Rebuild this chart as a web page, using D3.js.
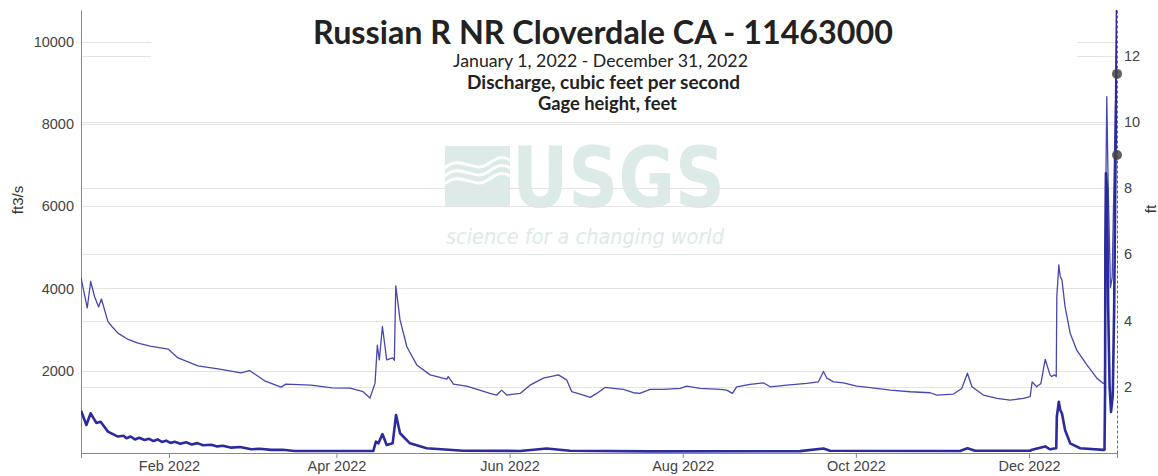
<!DOCTYPE html>
<html>
<head>
<meta charset="utf-8">
<script src="https://cdn.jsdelivr.net/npm/d3@7"></script>
<style>
  html, body { margin: 0; padding: 0; background: #fff; }
  svg { display: block; }
</style>
</head>
<body>
<svg id="chart"></svg>
<script>
// readings, x = day of year 2022 (0 = Jan 1 00:00)
const gageDays = [0, 2.2, 3.4, 4.8, 6.2, 7.2, 9.5, 10.9, 13, 16.6, 20.1, 24.3, 30.7, 34.2, 41.2, 48.3, 56.4, 59.4, 64.7, 70.5, 72.2, 81, 88.5,
  94.8, 99.4, 101.8, 103.6, 104.4, 105.1, 106.2, 107.7, 109.8, 110.4, 110.9, 112.4, 114.8, 118.3, 123, 128.9, 129.4, 131.2,
  135.9, 144.1, 146.5, 148.2, 150, 154.7, 158.2, 162.9, 168.2, 171.1, 172.9, 177, 179.4, 181.7, 184.6, 187.6, 191.1, 194.6,
  196.9, 200.5, 205.2, 211.1, 213.4, 218.1, 225.2, 227.5, 229.5, 231, 235.7, 240.4, 242.8, 248.7, 255.7, 259.8, 261.6,
  262.8, 265.1, 268.6, 273.3, 280.4, 285.1, 292.1, 299.2, 301.5, 307.4, 310.3, 312.3, 313.9, 317.9, 322.7, 327.3, 332,
  334.4, 335.1, 336.7, 338.2, 339.7, 341.4, 342, 343, 343.6, 343.8, 344.5, 345, 345.6, 346.7, 348.5, 350.8, 354.4, 357.9,
  360.2, 360.6, 361, 361.4, 361.9, 362.7, 363.3, 364, 364.7, 365];
const gageFeet = [5.29, 4.38, 5.18, 4.72, 4.41, 4.65, 3.97, 3.82, 3.62, 3.43, 3.32, 3.23, 3.14, 2.87, 2.63, 2.54, 2.42, 2.49, 2.18, 1.99, 2.08, 2.05, 1.97,
  1.96, 1.85, 1.66, 2.11, 3.26, 2.81, 3.82, 2.81, 2.87, 2.8, 5.05, 4.02, 3.21, 2.66, 2.36, 2.23, 2.31, 2.08,
  2.02, 1.8, 1.75, 1.9, 1.75, 1.8, 2.05, 2.26, 2.36, 2.21, 1.85, 1.75, 1.68, 1.8, 1.98, 1.95, 1.92, 1.82,
  1.8, 1.92, 1.92, 1.95, 2.02, 1.95, 1.92, 1.9, 1.8, 2, 2.07, 2.12, 2, 2.05, 2.1, 2.15, 2.46,
  2.26, 2.15, 2.12, 2.02, 1.95, 1.9, 1.85, 1.82, 1.75, 1.78, 1.95, 2.41, 2, 1.75, 1.65, 1.6, 1.65,
  1.7, 2.15, 2, 2.1, 2.83, 2.36, 2.31, 2.36, 2.31, 4.72, 5.68, 5.33, 5.23, 4.42, 3.62, 3.11, 2.66, 2.26,
  2.1, 2.1, 7.5, 10.76, 8, 5, 5.3, 8.5, 11.45, 13.3];

const flowDays = [0, 1.9, 3.4, 5.4, 6.9, 9.5, 13, 15, 16, 17.5, 19, 20.5, 22.4, 24, 25.5, 27, 28.5, 30, 31.5, 33, 35, 37, 39,
  41, 43, 45.9, 48, 50, 53, 56, 60, 63, 67, 71, 75.3, 103, 103.9, 104.8, 106.2, 107.7, 109.8, 111, 112.4, 115.9, 121.8,
  134.7, 154.7, 164.1, 172.3, 200.5, 253.3, 261.6, 263.9, 309.7, 312.3, 315, 334.4, 335.1, 339.7, 341.4, 343.6, 343.8,
  344.5, 345, 345.6, 346.7, 348.5, 352, 360.2, 360.6, 360.8, 360.9, 361.1, 361.5, 361.9, 362.4, 362.9, 363.5, 364,
  364.5, 365];
const flowCfs = [1030, 680, 965, 730, 760, 520, 400, 420, 360, 400, 330, 370, 316, 345, 290, 330, 270, 300, 245, 275, 225, 260, 205,
  240, 190, 200, 160, 175, 130, 145, 90, 105, 75, 80, 50, 50, 275, 235, 460, 195, 235, 925, 480, 235, 115,
  55, 50, 110, 55, 40, 45, 110, 55, 50, 115, 55, 55, 80, 160, 90, 115, 880,
  1245, 1045, 965, 560, 235, 115, 75, 80, 1500, 5000, 6800, 6400, 3500, 1600, 1000, 1400, 3500,
  7240, 10766];

const flowTicks = [2000, 4000, 6000, 8000, 10000];
const gageTicks = [2, 4, 6, 8, 10, 12];
const monthTicks = ["2022-02-01", "2022-04-01", "2022-06-01", "2022-08-01", "2022-10-01", "2022-12-01"];
const hoverDots = [11.45, 9.0]; // feet, on the right edge
const titleLines = [
  "Russian R NR Cloverdale CA - 11463000",
  "January 1, 2022 - December 31, 2022",
  "Discharge, cubic feet per second",
  "Gage height, feet"
];

const width = 1158, height = 476;
const margin = { top: 10, right: 41, bottom: 23, left: 81 };

const svg = d3.select("#chart").attr("width", width).attr("height", height);

const start = new Date(2022, 0, 1);
const toDate = d => d3.timeMinute.offset(start, Math.round(d * 1440));

const x = d3.scaleTime()
  .domain([start, new Date(2023, 0, 1)])
  .range([margin.left, width - margin.right]);

const yFlow = d3.scaleLinear()
  .domain([0, 10766])
  .range([height - margin.bottom, margin.top]);

const yGage = d3.scaleLinear()
  .domain([0, 13.38])
  .range([height - margin.bottom, margin.top]);

svg.append("defs").append("clipPath").attr("id", "plot-clip")
  .append("rect")
  .attr("x", margin.left).attr("y", margin.top)
  .attr("width", width - margin.left - margin.right)
  .attr("height", height - margin.top - margin.bottom);

// watermark
const wm = svg.append("g").attr("fill", "#dcebe7");
wm.append("path")
  .attr("d", "M445,146 L510,146 L510,207 L445,207 Z");
wm.append("g").attr("fill", "none").attr("stroke", "#fff").attr("stroke-width", 3)
  .selectAll("path")
  .data([0, 1, 2])
  .enter().append("path")
  .attr("d", (d, i) => {
    const y0 = 168 + i * 8;
    return `M445,${y0} C460,${y0 - 14} 474,${y0 + 6} 488,${y0 - 4} S505,${y0 - 10} 510,${y0 - 8}`;
  });
wm.append("text")
  .attr("x", 512).attr("y", 207)
  .attr("font-family", "'Liberation Sans Narrow', 'DejaVu Sans Condensed', sans-serif")
  .attr("font-weight", "bold")
  .attr("font-size", 84)
  .attr("textLength", 213).attr("lengthAdjust", "spacingAndGlyphs")
  .text("USGS");
wm.append("text")
  .attr("x", 446).attr("y", 244)
  .attr("font-family", "'Liberation Sans Narrow', 'DejaVu Sans Condensed', sans-serif")
  .attr("font-style", "italic")
  .attr("font-size", 22)
  .attr("textLength", 278).attr("lengthAdjust", "spacingAndGlyphs")
  .text("science for a changing world");

// gridlines for both axes
const grid = svg.append("g").attr("stroke", "#e4e4e4").attr("stroke-width", 1);
grid.selectAll(".gf").data(flowTicks).enter().append("line")
  .attr("x1", margin.left).attr("x2", width - margin.right)
  .attr("y1", d => Math.round(yFlow(d)) + 0.5).attr("y2", d => Math.round(yFlow(d)) + 0.5);
grid.selectAll(".gg").data(gageTicks).enter().append("line")
  .attr("x1", margin.left).attr("x2", width - margin.right)
  .attr("y1", d => Math.round(yGage(d)) + 0.5).attr("y2", d => Math.round(yGage(d)) + 0.5);

// title box
svg.append("rect")
  .attr("x", 151).attr("y", 0).attr("width", 926).attr("height", 117)
  .attr("fill", "#fff");

const titleSpecs = [
  { y: 44, w: 580, cx: 603, weight: "bold" },
  { y: 67, w: 295, cx: 600.5, weight: "normal" },
  { y: 89, w: 273, cx: 603.5, weight: "bold" },
  { y: 110, w: 139, cx: 607.5, weight: "bold" }
];
const titles = svg.append("g")
  .attr("font-family", "Lato, 'Open Sans', sans-serif")
  .attr("fill", "#222")
  .attr("text-anchor", "middle");
titleLines.forEach((t, i) => {
  const s = titleSpecs[i];
  const el = titles.append("text")
    .attr("x", s.cx).attr("y", s.y)
    .attr("font-weight", s.weight)
    .attr("font-size", 20)
    .text(t);
  // fit the font size to the width seen in the reference
  const len = el.node().getComputedTextLength();
  el.attr("font-size", (20 * s.w / len).toFixed(2));
});

// axes
const axisFont = "'Liberation Sans', Arial, sans-serif";

const xAxis = svg.append("g")
  .attr("transform", `translate(0,${height - margin.bottom})`)
  .call(d3.axisBottom(x)
    .tickValues(monthTicks.map(d => d3.timeParse("%Y-%m-%d")(d)))
    .tickFormat(d3.timeFormat("%b %Y"))
    .tickSize(5)
    .tickPadding(3));
xAxis.select(".domain").attr("stroke", "#888");
xAxis.selectAll(".tick line").attr("stroke", "#888");
xAxis.selectAll("text").attr("font-family", axisFont).attr("font-size", 14.5).attr("fill", "#444");

const yLeft = svg.append("g")
  .attr("transform", `translate(${margin.left},0)`)
  .call(d3.axisLeft(yFlow).tickValues(flowTicks).tickFormat(d3.format("d")).tickSize(0).tickPadding(7));
yLeft.select(".domain").attr("stroke", "#888");
yLeft.selectAll("text").attr("font-family", axisFont).attr("font-size", 14.5).attr("fill", "#444");

const yRight = svg.append("g")
  .attr("transform", `translate(${width - margin.right},0)`)
  .call(d3.axisRight(yGage).tickValues(gageTicks).tickSize(0).tickPadding(7));
yRight.select(".domain").attr("stroke", "#666").attr("stroke-dasharray", "3,2");
yRight.selectAll("text").attr("font-family", axisFont).attr("font-size", 14.5).attr("fill", "#444");

svg.append("text")
  .attr("transform", "translate(23,200) rotate(-90)")
  .attr("text-anchor", "middle")
  .attr("font-family", axisFont).attr("font-size", 15).attr("fill", "#333")
  .text("ft3/s");

svg.append("text")
  .attr("transform", "translate(1156,209) rotate(-90)")
  .attr("text-anchor", "middle")
  .attr("font-family", axisFont).attr("font-size", 15).attr("fill", "#333")
  .text("ft");

// series lines
const plot = svg.append("g").attr("clip-path", "url(#plot-clip)");

const gageLine = d3.line()
  .x((d, i) => x(toDate(gageDays[i])))
  .y(d => yGage(d));

const flowLine = d3.line()
  .x((d, i) => x(toDate(flowDays[i])))
  .y(d => yFlow(d));

plot.append("path")
  .datum(gageFeet)
  .attr("fill", "none")
  .attr("stroke", "#4747ad")
  .attr("stroke-width", 1.3)
  .attr("stroke-linejoin", "round")
  .attr("d", gageLine);

plot.append("path")
  .datum(flowCfs)
  .attr("fill", "none")
  .attr("stroke", "#2b2b9d")
  .attr("stroke-width", 2.6)
  .attr("stroke-linejoin", "round")
  .attr("d", flowLine);

// hover markers
svg.selectAll(".dot")
  .data(hoverDots)
  .enter().append("circle")
  .attr("cx", width - margin.right)
  .attr("cy", d => yGage(d))
  .attr("r", 5)
  .attr("fill", "#444")
  .attr("fill-opacity", 0.85);
</script>
</body>
</html>
